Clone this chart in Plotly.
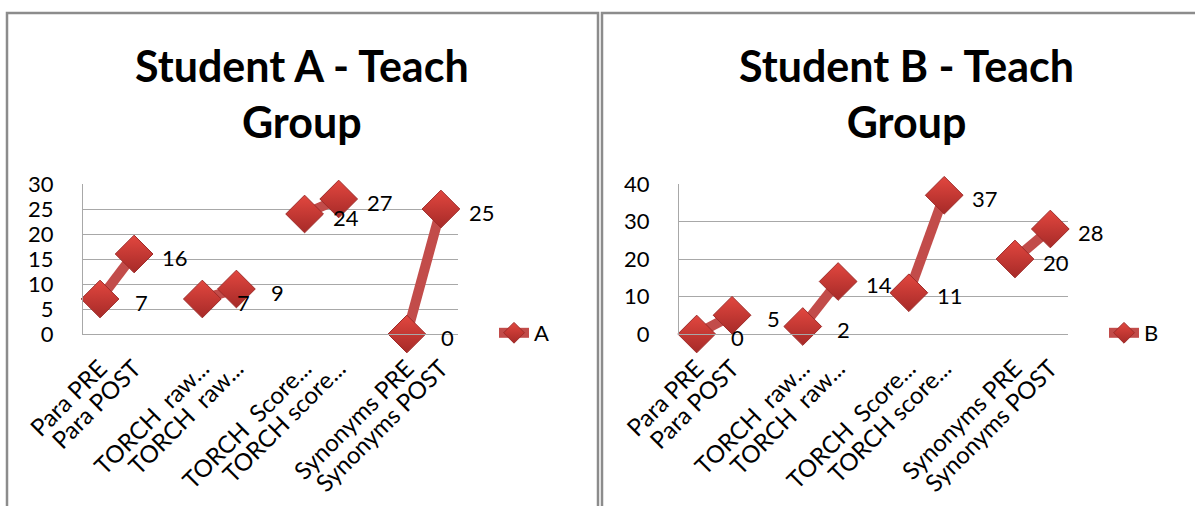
import plotly.graph_objects as go

# Category slots (blank slots separate the PRE/POST pairs)
categories = ["Para PRE", "Para POST", "",
              "TORCH\u00a0 raw...", "TORCH\u00a0 raw...", "",
              "TORCH\u00a0 Score...", "TORCH score...", "",
              "Synonyms PRE", "Synonyms POST"]
student_a = [7, 16, None, 7, 9, None, 24, 27, None, 0, 25]
student_b = [0, 5, None, 2, 14, None, 11, 37, None, 20, 28]
a_ticks = [0, 5, 10, 15, 20, 25, 30]
b_ticks = [0, 10, 20, 30, 40]

W, H = 1195, 506
FONT = "Lato, 'Open Sans', sans-serif"
RED_LINE = "#C24C4A"
RED_MARK = "#E2473F"
RED_DARK = "#A62A28"
GRID = "#A8A8A8"

xs = list(range(len(categories)))


def px_x(v):
    return v / W


def px_y(v):
    return 1 - v / H


fig = go.Figure()


def add_series(name, values, xa, ya, legend):
    fig.add_trace(go.Scatter(
        x=xs, y=values, name=name, mode="lines+markers",
        xaxis=xa, yaxis=ya, legend=legend,
        connectgaps=False, cliponaxis=False,
        line=dict(color=RED_LINE, width=10),
        marker=dict(symbol="diamond", size=29, color=RED_MARK,
                    gradient=dict(type="vertical", color=RED_DARK),
                    line=dict(color="#9E2A28", width=1)),
    ))


add_series("A", student_a, "x", "y", "legend")
add_series("B", student_b, "x2", "y2", "legend2")

# value labels beside each point
annotations = []
for xr, yr, vals in (("x", "y", student_a), ("x2", "y2", student_b)):
    for i, v in zip(xs, vals):
        if v is None:
            continue
        annotations.append(dict(
            x=i, y=v, xref=xr, yref=yr, text=str(v), showarrow=False,
            xshift=41, yshift=-3, font=dict(family=FONT, size=22, color="#000"),
        ))

# chart titles
for cx, label in ((302, "Student A - Teach<br>Group"), (906, "Student B - Teach<br>Group")):
    annotations.append(dict(
        x=px_x(cx), y=px_y(93), xref="paper", yref="paper", text=label,
        showarrow=False, xanchor="center", yanchor="middle",
        font=dict(family=FONT, size=43, color="#000", weight="bold"),
    ))

axis_font = dict(family=FONT, size=22, color="#000")
xaxis_common = dict(
    tickmode="array", tickvals=xs, ticktext=categories, tickangle=-45,
    range=[-0.5, len(categories) - 0.5], showgrid=False, zeroline=False,
    showline=True, linecolor=GRID, linewidth=1,
    tickfont=dict(family=FONT, size=24, color="#000"),
    ticks="", ticklabelstandoff=10, automargin=False,
)
yaxis_common = dict(
    showgrid=True, gridcolor=GRID, gridwidth=1, zeroline=False,
    showline=True, linecolor=GRID, linewidth=1, ticks="",
    tickfont=axis_font, ticklabelstandoff=24, tickmode="array",
    automargin=False,
)

fig.update_layout(
    width=W, height=H, margin=dict(l=0, r=0, t=0, b=0, autoexpand=False),
    paper_bgcolor="white", plot_bgcolor="white",
    xaxis=dict(xaxis_common, domain=[px_x(83), px_x(458)], anchor="y"),
    yaxis=dict(yaxis_common, domain=[px_y(334), px_y(184)], range=[0, 30],
               tickvals=a_ticks, anchor="x"),
    xaxis2=dict(xaxis_common, domain=[px_x(679), px_x(1068)], anchor="y2"),
    yaxis2=dict(yaxis_common, domain=[px_y(334), px_y(184)], range=[0, 40],
                tickvals=b_ticks, anchor="x2"),
    legend=dict(x=px_x(494), y=px_y(333), xanchor="left", yanchor="middle",
                font=dict(family=FONT, size=22, color="#000"),
                bgcolor="rgba(0,0,0,0)"),
    legend2=dict(x=px_x(1104), y=px_y(333), xanchor="left", yanchor="middle",
                 font=dict(family=FONT, size=22, color="#000"),
                 bgcolor="rgba(0,0,0,0)"),
    annotations=annotations,
    shapes=[
        dict(type="rect", xref="paper", yref="paper",
             x0=px_x(7), x1=px_x(598), y0=-0.1, y1=px_y(13),
             line=dict(color="#8C8C8C", width=2.5)),
        dict(type="rect", xref="paper", yref="paper",
             x0=px_x(602), x1=1.1, y0=-0.1, y1=px_y(13),
             line=dict(color="#8C8C8C", width=2.5)),
    ],
    showlegend=True,
)

fig.write_html("out.html")
